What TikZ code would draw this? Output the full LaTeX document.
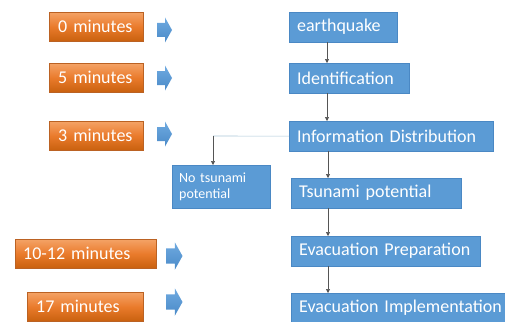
\documentclass[tikz,border=0pt]{standalone}
\usepackage{fontspec}
\setmainfont{Carlito}
\usetikzlibrary{arrows.meta}
\definecolor{boxblue}{HTML}{5B9BD5}
\definecolor{boxblueedge}{HTML}{4A88C4}
\definecolor{otop}{HTML}{F4A366}
\definecolor{omid}{HTML}{EA7B2C}
\definecolor{obot}{HTML}{C9610F}
\definecolor{conngray}{HTML}{555555}
\definecolor{lightline}{HTML}{A9C6D6}
\definecolor{arrtop}{HTML}{6FAAE0}
\definecolor{arrbot}{HTML}{4A8AC8}
\tikzset{
  obox/.style={anchor=north west, rectangle, draw=omid!80!black, line width=0.3pt,
    top color=otop, bottom color=obot, middle color=omid,
    text=white, font=\fontsize{18}{20}\selectfont, inner xsep=9pt, inner ysep=0pt,
    align=left, minimum height=29pt},
  bbox/.style={anchor=north west, rectangle, draw=boxblueedge, line width=0.3pt, fill=boxblue,
    text=white, font=\fontsize{18}{20}\selectfont, inner xsep=8pt, inner ysep=0pt,
    align=left, minimum height=30pt},
  conn/.style={draw=conngray, line width=0.6pt, -{Triangle[length=4pt,width=4pt]}},
  lconn/.style={draw=lightline, line width=0.6pt},
  barrow/.pic={\shade[top color=arrtop, bottom color=arrbot]
    (0,-7) -- (8,-7) -- (8,-12.5) -- (15,0) -- (8,12.5) -- (8,7) -- (0,7) -- cycle;}
}
\begin{document}
\begin{tikzpicture}[x=1pt,y=-1pt]
\useasboundingbox (0,0) rectangle (505,321);
% orange time boxes
\node[obox, text width=76pt] (o1) at (49,12) {0 minutes};
\node[obox, text width=76pt] (o2) at (49,63) {5 minutes};
\node[obox, text width=76pt] (o3) at (49,121) {3 minutes};
\node[obox, text width=125pt, inner xsep=8pt] (o4) at (15,239) {10-12 minutes};
\node[obox, text width=98pt] (o5) at (27,292) {17 minutes};
% block arrows
\pic (a1) at (157,30) {barrow};
\pic (a2) at (157,78) {barrow};
\pic (a3) at (157,134) {barrow};
\pic[scale=1.1] (a4) at (166,256) {barrow};
\pic[scale=1.1] (a5) at (166,302) {barrow};
% blue boxes
\node[bbox, text width=92pt] (eq) at (289,12) {earthquake};
\node[bbox, text width=104pt] (id) at (289,63) {Identification};
\node[bbox, text width=188pt] (info) at (289,121) {Information Distribution};
\node[bbox, text width=84pt, minimum height=43pt, inner xsep=7pt,
  font=\fontsize{14}{16}\selectfont] (nots) at (172,165) {No tsunami\\potential};
\node[bbox, text width=154pt] (tsu) at (291,178) {Tsunami potential};
\node[bbox, text width=173pt] (ep) at (291,236) {Evacuation Preparation};
\node[bbox, text width=204pt, minimum height=29pt] (ei) at (291,293) {Evacuation Implementation};
% connectors
\draw[conn] ([xshift=38pt]eq.south west) -- ([xshift=38pt]eq.south west |- id.north);
\draw[conn] ([xshift=38pt]id.south west) -- ([xshift=38pt]id.south west |- info.north);
\draw[conn] ([xshift=39pt]info.south west) -- ([xshift=39pt]info.south west |- tsu.north);
\draw[conn] ([xshift=37pt]tsu.south west) -- ([xshift=37pt]tsu.south west |- ep.north);
\draw[conn] ([xshift=37pt]ep.south west) -- ([xshift=37pt]ep.south west |- ei.north);
\coordinate (bend) at (213,136);
\draw[lconn] (info.west) -- (bend);
\draw[conn] (bend) -- (bend |- nots.north);
\end{tikzpicture}
\end{document}
